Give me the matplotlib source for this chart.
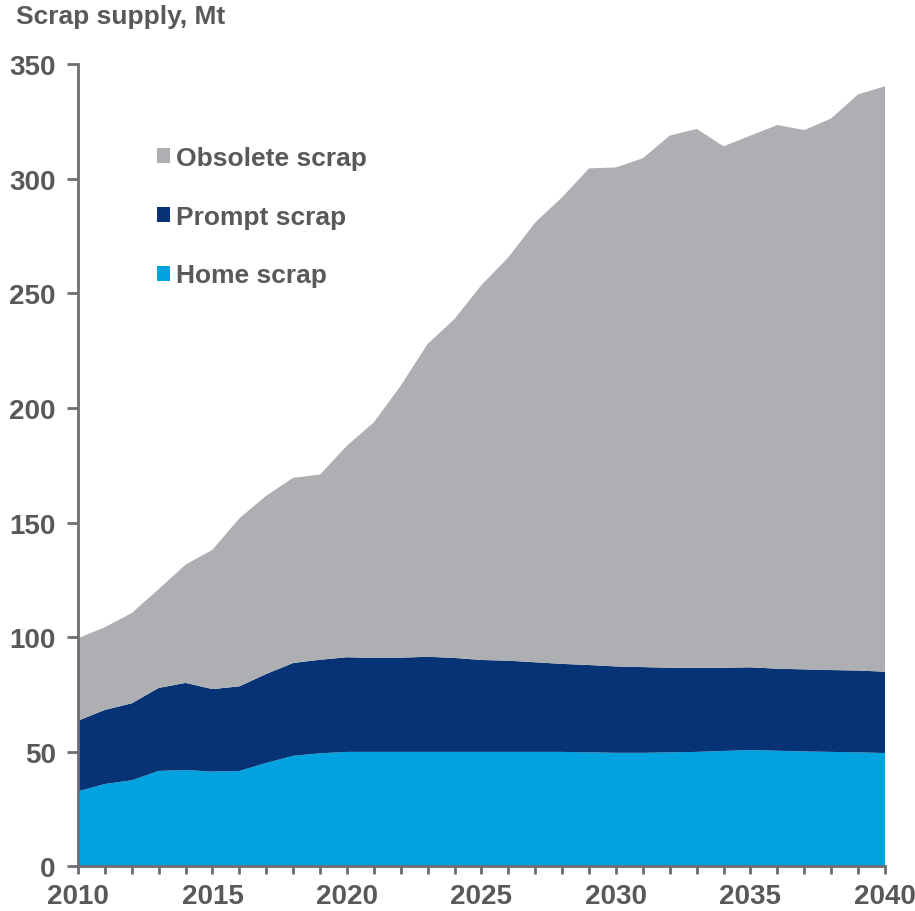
import matplotlib
matplotlib.use("Agg")
import matplotlib.pyplot as plt
import numpy as np
from matplotlib.patches import Patch

# scrap supply in Mt
years = np.arange(2010, 2041)
home_scrap = [32.8, 36.0, 37.6, 41.7, 42.1, 41.4, 41.7, 45.2, 48.3, 49.4,
              50.0, 50.0, 50.0, 50.0, 50.0, 50.0, 50.0, 50.0, 50.0, 49.8,
              49.6, 49.6, 49.8, 50.0, 50.4, 50.8, 50.5, 50.2, 50.0, 49.8,
              49.5]
home_plus_prompt = [63.6, 68.3, 71.2, 77.9, 80.1, 77.4, 78.6, 84.0, 88.8, 90.2,
                    91.3, 91.0, 91.1, 91.5, 91.0, 90.1, 89.8, 89.1, 88.4, 87.9,
                    87.3, 87.0, 86.7, 86.7, 86.7, 86.9, 86.3, 86.0, 85.7, 85.5,
                    85.0]
total = [99.6, 104.4, 110.6, 121.0, 131.7, 138.2, 151.9, 161.8, 169.6, 171.0,
         183.6, 193.8, 209.8, 228.0, 238.9, 253.7, 265.8, 281.0, 292.0, 304.6,
         305.0, 309.0, 318.9, 321.8, 314.2, 318.9, 323.5, 321.3, 326.4, 336.9,
         340.4]

prompt_scrap = np.array(home_plus_prompt) - np.array(home_scrap)
obsolete_scrap = np.array(total) - np.array(home_plus_prompt)

labels = ["Home scrap", "Prompt scrap", "Obsolete scrap"]
colors = ["#00A3E0", "#063375", "#AEAFB3"]
txt = "#58595B"

plt.rcParams['font.family'] = ['Liberation Sans', 'DejaVu Sans']
plt.rcParams['font.weight'] = 'bold'

fig = plt.figure(figsize=(9.15, 9.12), dpi=100)
ax = fig.add_axes([0.0852, 0.0488, 0.8820, 0.8796])

ax.stackplot(years, home_scrap, prompt_scrap, obsolete_scrap,
             colors=colors, linewidth=0)

ax.set_xlim(2010, 2040)
ax.set_ylim(0, 350)
ax.set_yticks(np.arange(0, 351, 50))
ax.set_xticks(np.arange(2010, 2041, 5))
ax.set_xticks(years, minor=True)

for s in ["top", "right"]:
    ax.spines[s].set_visible(False)
for s in ["left", "bottom"]:
    ax.spines[s].set_color("#6D6E71")
    ax.spines[s].set_linewidth(2)
    ax.spines[s].set_zorder(5)

ax.tick_params(axis="y", direction="out", length=8, width=2, color="#6D6E71",
               labelsize=20, labelcolor=txt, pad=8)
ax.tick_params(axis="x", which="both", direction="out", length=6, width=2,
               color="#6D6E71", labelsize=20, labelcolor=txt, pad=6)
for lab in ax.get_xticklabels() + ax.get_yticklabels():
    lab.set_fontweight("bold")

fig.text(0.018, 0.981, "Scrap supply, Mt", fontsize=19, fontweight="bold",
         color=txt, ha="left", va="center")

handles = [Patch(facecolor=c, edgecolor="none") for c in colors[::-1]]
leg = ax.legend(handles, labels[::-1], loc="upper left",
                bbox_to_anchor=(0.068, 0.928), frameon=False,
                handlelength=0.5, handleheight=0.5, handletextpad=0.25,
                labelspacing=1.32, prop={"size": 19, "weight": "bold"})
for t in leg.get_texts():
    t.set_color(txt)

fig.savefig("out.png", dpi=100)
